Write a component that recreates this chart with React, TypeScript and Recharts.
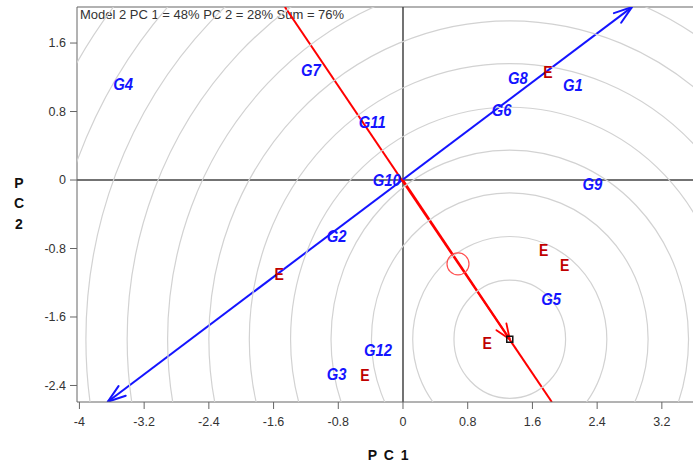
import React from 'react';
import { ComposedChart, XAxis, YAxis, Line, Scatter, ReferenceLine, ReferenceDot } from 'recharts';

// ---------- data ----------
const TITLE = 'Model 2 PC 1 = 48% PC 2 = 28% Sum = 76%';
const X_TICKS = [-4, -3.2, -2.4, -1.6, -0.8, 0, 0.8, 1.6, 2.4, 3.2];
const Y_TICKS = [-2.4, -1.6, -0.8, 0, 0.8, 1.6];
const X_DOMAIN: [number, number] = [-4.03, 3.585];
const Y_DOMAIN: [number, number] = [-2.593, 2.021];

const genotypes = [
  { name: 'G1', x: 2.1, y: 1.11 },
  { name: 'G2', x: -0.82, y: -0.65 },
  { name: 'G3', x: -0.82, y: -2.27 },
  { name: 'G4', x: -3.46, y: 1.12 },
  { name: 'G5', x: 1.83, y: -1.39 },
  { name: 'G6', x: 1.22, y: 0.82 },
  { name: 'G7', x: -1.14, y: 1.29 },
  { name: 'G8', x: 1.42, y: 1.19 },
  { name: 'G9', x: 2.34, y: -0.05 },
  { name: 'G10', x: -0.2, y: 0.0 },
  { name: 'G11', x: -0.38, y: 0.68 },
  { name: 'G12', x: -0.31, y: -1.99 },
];

const environments = [
  { name: 'E', x: 1.79, y: 1.26 },
  { name: 'E', x: -1.53, y: -1.1 },
  { name: 'E', x: 1.74, y: -0.82 },
  { name: 'E', x: 2.0, y: -0.99 },
  { name: 'E', x: 1.04, y: -1.9 },
  { name: 'E', x: -0.47, y: -2.28 },
];

const vectorLine = [
  { x: -3.65, y: -2.59 },
  { x: 2.83, y: 2.02 },
];
const perpLine = [
  { x: -1.46, y: 2.021 },
  { x: 1.84, y: -2.593 },
];
const idealArrow = [
  { x: 0, y: 0 },
  { x: 1.32, y: -1.86 },
];
const idealPoint = { x: 1.32, y: -1.86 };
const meanEnvMarker = { x: 0.68, y: -0.98 };
const circleRadii = [0.69, 1.2, 1.71, 2.21, 2.71, 3.22, 3.72, 4.23, 4.73, 5.24, 5.74, 6.25, 6.75];

// ---------- layout ----------
const W = 693;
const H = 470;
const MARGIN = { top: 7, right: 0, bottom: 0, left: 0 };
const Y_AXIS_W = 77;
const X_AXIS_H = 68;
const PLOT_X = MARGIN.left + Y_AXIS_W;
const PLOT_Y = MARGIN.top;
const PLOT_W = W - MARGIN.left - MARGIN.right - Y_AXIS_W;
const PLOT_H = H - MARGIN.top - MARGIN.bottom - X_AXIS_H;
const PX_PER_X = PLOT_W / (X_DOMAIN[1] - X_DOMAIN[0]);
const PX_PER_Y = PLOT_H / (Y_DOMAIN[1] - Y_DOMAIN[0]);

const FONT = '"Liberation Sans", Arial, Helvetica, sans-serif';
const BLUE = '#1414ff';
const RED = '#ff0000';

const CirclesShape = (props: any) => {
  const { cx, cy } = props;
  return (
    <g clipPath="url(#plotClip)">
      {circleRadii.map((r) => (
        <ellipse key={r} cx={cx} cy={cy} rx={r * PX_PER_X} ry={r * PX_PER_Y} fill="none" stroke="#d2d2d2" strokeWidth={1.2} />
      ))}
    </g>
  );
};

const SquareShape = (props: any) => {
  const { cx, cy } = props;
  return <rect x={cx - 3} y={cy - 3} width={6} height={6} fill="none" stroke="#111" strokeWidth={1.5} />;
};

const GLabel = (props: any) => {
  const { cx, cy, payload } = props;
  return (
    <text transform={`translate(${cx},${cy}) scale(0.9,1)`} x={0} y={0} dy="0.36em" textAnchor="middle" fill={BLUE} fontSize={16.5} fontWeight="bold" fontStyle="italic" fontFamily={FONT}>
      {payload.name}
    </text>
  );
};

const ELabel = (props: any) => {
  const { cx, cy, payload } = props;
  return (
    <text transform={`translate(${cx},${cy}) scale(0.85,1)`} x={0} y={0} dy="0.36em" textAnchor="middle" fill="#c00000" fontSize={16.5} fontWeight="bold" fontFamily={FONT}>
      {payload.name}
    </text>
  );
};

const XLabel = (props: any) => {
  const vb = props.viewBox || { x: PLOT_X, y: PLOT_Y + PLOT_H, width: PLOT_W, height: X_AXIS_H };
  return (
    <text x={vb.x + vb.width / 2 + 4} y={vb.y + 58} textAnchor="middle" fill="#111" fontSize={14} fontWeight="bold" fontFamily={FONT} letterSpacing={1.5}>
      P C 1
    </text>
  );
};

const YLabel = (props: any) => {
  const vb = props.viewBox || { x: 0, y: PLOT_Y, width: Y_AXIS_W, height: PLOT_H };
  const x = vb.x + 19;
  return (
    <text textAnchor="middle" fill="#111" fontSize={14} fontWeight="bold" fontFamily={FONT}>
      <tspan x={x} y={vb.y + 181}>P</tspan>
      <tspan x={x} y={vb.y + 201}>C</tspan>
      <tspan x={x} y={vb.y + 222}>2</tspan>
    </text>
  );
};

const TitleLabel = (props: any) => {
  const vb = props.viewBox || { x: PLOT_X, y: PLOT_Y };
  return (
    <text x={vb.x + 3} y={vb.y + 12} fill="#333" fontSize={13} fontFamily={FONT}>
      {TITLE}
    </text>
  );
};

export default function App() {
  return (
    <div style={{ position: 'absolute', left: 0, top: 0, width: W, height: H, overflow: 'hidden', background: '#fff' }}>
      <svg width={0} height={0} style={{ position: 'absolute' }}>
        <defs>
          <clipPath id="plotClip">
            <rect x={PLOT_X} y={PLOT_Y} width={PLOT_W} height={PLOT_H} />
          </clipPath>
          <marker id="arrowBlue" markerUnits="userSpaceOnUse" markerWidth={26} markerHeight={26} viewBox="-22 -13 26 26" refX={0} refY={0} orient="auto-start-reverse" overflow="visible">
            <path d="M-18,-6 L0,0 L-18,6" fill="none" stroke={BLUE} strokeWidth={2} strokeLinecap="round" strokeLinejoin="round" />
          </marker>
          <marker id="arrowRed" markerUnits="userSpaceOnUse" markerWidth={26} markerHeight={26} viewBox="-22 -13 26 26" refX={0} refY={0} orient="auto" overflow="visible">
            <path d="M-15,-6 L0,0 L-15,6" fill="none" stroke={RED} strokeWidth={1.8} strokeLinecap="round" strokeLinejoin="round" />
          </marker>
        </defs>
      </svg>
      <ComposedChart width={W} height={H} margin={MARGIN}>
        <XAxis
          type="number"
          dataKey="x"
          domain={X_DOMAIN}
          allowDataOverflow
          ticks={X_TICKS}
          interval={0}
          height={X_AXIS_H}
          tickSize={7}
          tickMargin={8}
          stroke="#666"
          tick={{ fill: '#333', fontSize: 12.5, fontFamily: FONT }}
          label={{ content: XLabel }}
        />
        <YAxis
          type="number"
          dataKey="y"
          domain={Y_DOMAIN}
          allowDataOverflow
          ticks={Y_TICKS}
          interval={0}
          width={Y_AXIS_W}
          tickSize={7}
          tickMargin={4}
          stroke="#666"
          tick={{ fill: '#333', fontSize: 12.5, fontFamily: FONT }}
          label={{ content: YLabel }}
        />
        <ReferenceDot x={idealPoint.x} y={idealPoint.y} shape={CirclesShape} ifOverflow="visible" />
        <ReferenceLine y={Y_DOMAIN[1]} stroke="#666" strokeWidth={1.2} label={{ content: TitleLabel }} />
        <ReferenceLine x={0} stroke="#444" strokeWidth={1.5} />
        <ReferenceLine y={0} stroke="#444" strokeWidth={1.5} />
        <Scatter data={genotypes} dataKey="y" shape={GLabel} isAnimationActive={false} />
        <Scatter data={environments} dataKey="y" shape={ELabel} isAnimationActive={false} />
        <Line data={vectorLine} dataKey="y" type="linear" stroke={BLUE} strokeWidth={2} dot={false} activeDot={false} isAnimationActive={false} markerStart="url(#arrowBlue)" markerEnd="url(#arrowBlue)" />
        <Line data={perpLine} dataKey="y" type="linear" stroke={RED} strokeWidth={2} dot={false} activeDot={false} isAnimationActive={false} />
        <Line data={idealArrow} dataKey="y" type="linear" stroke={RED} strokeWidth={2} dot={false} activeDot={false} isAnimationActive={false} markerEnd="url(#arrowRed)" />
        <ReferenceDot x={meanEnvMarker.x} y={meanEnvMarker.y} r={11} fill="none" stroke="#ff5050" strokeWidth={1.2} ifOverflow="visible" />
        <ReferenceDot x={idealPoint.x} y={idealPoint.y} shape={SquareShape} ifOverflow="visible" />
      </ComposedChart>
    </div>
  );
}
